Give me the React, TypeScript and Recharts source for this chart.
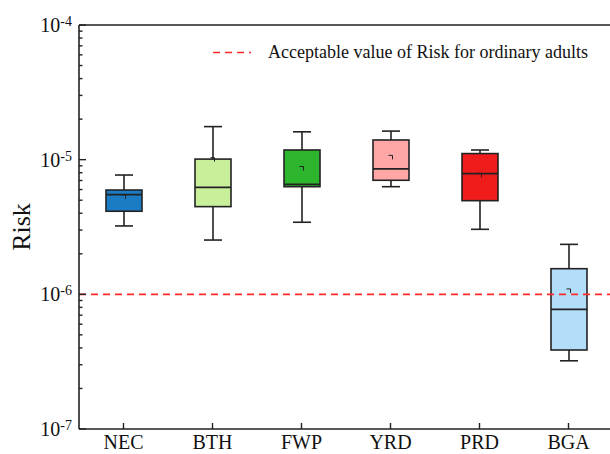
import React from 'react';
import { ComposedChart, Bar, Scatter, XAxis, YAxis, ReferenceLine } from 'recharts';

const categories = ['NEC', 'BTH', 'FWP', 'YRD', 'PRD', 'BGA'];
const whiskerLow = [3.22e-6, 2.53e-6, 3.43e-6, 6.3e-6, 3.04e-6, 3.21e-7];
const q1 = [4.14e-6, 4.48e-6, 6.3e-6, 7.03e-6, 4.96e-6, 3.86e-7];
const median = [5.5e-6, 6.23e-6, 6.55e-6, 8.53e-6, 7.87e-6, 7.74e-7];
const q3 = [5.95e-6, 1.01e-5, 1.18e-5, 1.4e-5, 1.11e-5, 1.55e-6];
const whiskerHigh = [7.69e-6, 1.76e-5, 1.61e-5, 1.63e-5, 1.18e-5, 2.35e-6];
const means = [5.3e-6, 1.0e-5, 8.6e-6, 1.04e-5, 7.65e-6, 1.06e-6];
const boxColors = ['#1b7cc4', '#c8f09a', '#2db52d', '#ffa6a6', '#f01c1c', '#b3defa'];

const acceptableRisk = 1e-6;
const legendLabel = 'Acceptable value of Risk for ordinary adults';
const yAxisLabel = 'Risk';
const yMajorTicks = [1e-7, 1e-6, 1e-5, 1e-4];
const yMajorExponents = ['-7', '-6', '-5', '-4'];
const yMinorMultipliers = [2, 3, 4, 5, 6, 7, 8, 9];
const yDecades = [1e-7, 1e-6, 1e-5];

const yMinorTicks: number[] = [];
yDecades.forEach((d) => yMinorMultipliers.forEach((m) => yMinorTicks.push(m * d)));
const yTicks = [...yMajorTicks, ...yMinorTicks].sort((a, b) => a - b);

const data = categories.map((name, i) => ({
  name,
  range: [whiskerLow[i], whiskerHigh[i]],
  q1: q1[i],
  median: median[i],
  q3: q3[i],
  mean: means[i],
  color: boxColors[i],
}));

const FONT = '"Liberation Serif", "Times New Roman", serif';
const INK = '#222';

const BoxShape = (props: any) => {
  const { x, y, width, height, payload } = props;
  if (!payload) return null;
  const [lo, hi] = payload.range;
  const top = Math.min(y, y + height);
  const bottom = Math.max(y, y + height);
  const L = Math.log10;
  const toPx = (v: number) => top + ((bottom - top) * (L(hi) - L(v))) / (L(hi) - L(lo));
  const cx = x + width / 2;
  const capW = 18;
  const yq1 = toPx(payload.q1);
  const yq3 = toPx(payload.q3);
  const ymed = toPx(payload.median);
  return (
    <g>
      <line x1={cx} x2={cx} y1={top} y2={yq3} stroke={INK} strokeWidth={1.6} />
      <line x1={cx} x2={cx} y1={yq1} y2={bottom} stroke={INK} strokeWidth={1.6} />
      <line x1={cx - capW / 2} x2={cx + capW / 2} y1={top} y2={top} stroke={INK} strokeWidth={1.6} />
      <line x1={cx - capW / 2} x2={cx + capW / 2} y1={bottom} y2={bottom} stroke={INK} strokeWidth={1.6} />
      <rect x={x} y={yq3} width={width} height={yq1 - yq3} fill={payload.color} stroke={INK} strokeWidth={1.6} />
      <line x1={x} x2={x + width} y1={ymed} y2={ymed} stroke={INK} strokeWidth={1.8} />
    </g>
  );
};

const MeanShape = (props: any) => {
  const { cx, cy } = props;
  if (cx == null || cy == null) return null;
  return <path d={`M${cx - 2},${cy - 2}H${cx + 2}V${cy + 2}`} fill="none" stroke={INK} strokeWidth={1} />;
};

const YTick = (props: any) => {
  const { x, y, payload } = props;
  const v = payload.value;
  const majorIdx = yMajorTicks.findIndex((m) => Math.abs(m - v) / m < 1e-6);
  const isMajor = majorIdx >= 0;
  const len = isMajor ? 7 : 3.5;
  return (
    <g>
      <path d={`M${x},${y}H${x + len}`} stroke={INK} strokeWidth={1.4} fill="none" />
      {isMajor && (
        <text x={x - 7} y={y + 7} textAnchor="end" fontFamily={FONT} fontSize={20} fill="#111" stroke="none">
          <tspan>10</tspan>
          <tspan dy={-6} fontSize={14}>{yMajorExponents[majorIdx]}</tspan>
        </text>
      )}
    </g>
  );
};

const XTick = (props: any) => {
  const { x, y, payload } = props;
  return (
    <text x={x} y={y + 6 + 20} textAnchor="middle" fontFamily={FONT} fontSize={20} fill="#111" stroke="none">
      {payload.value}
    </text>
  );
};

const YLabel = (props: any) => {
  const vb = props.viewBox || { x: 0, y: 25, width: 79, height: 404 };
  const cx = vb.x + 21;
  const cy = vb.y + vb.height / 2;
  return (
    <text
      x={cx}
      y={cy}
      transform={`rotate(-90 ${cx} ${cy})`}
      textAnchor="middle"
      dominantBaseline="central"
      fontFamily={FONT}
      fontSize={26}
      fill="#111"
    >
      {yAxisLabel}
    </text>
  );
};

export default function App() {
  return (
    <div style={{ position: 'absolute', left: 0, top: 0, width: 610, height: 454, overflow: 'hidden', background: '#fff' }}>
      <ComposedChart width={613} height={454} data={data} margin={{ top: 25, right: 0, bottom: 0, left: 0 }}>
        <XAxis
          dataKey="name"
          height={25}
          tickSize={-6}
          tickMargin={0}
          tickLine={{ stroke: INK, strokeWidth: 1.4 }}
          tick={<XTick />}
          axisLine={{ stroke: INK, strokeWidth: 1.6 }}
          interval={0}
        />
        <YAxis
          scale="log"
          domain={[1e-7, 1e-4]}
          allowDataOverflow
          ticks={yTicks}
          interval={0}
          width={79}
          tickSize={0}
          tickMargin={0}
          tickLine={false}
          tick={<YTick />}
          axisLine={{ stroke: INK, strokeWidth: 1.6 }}
          label={<YLabel />}
        />
        <ReferenceLine y={1e-4} stroke={INK} strokeWidth={1.6} />
        <Bar dataKey="range" barSize={36} shape={<BoxShape />} isAnimationActive={false} />
        <Scatter dataKey="mean" shape={<MeanShape />} isAnimationActive={false} />
        <ReferenceLine y={acceptableRisk} stroke="#ff2a2a" strokeWidth={1.6} strokeDasharray="7 5" />
      </ComposedChart>
      <svg width={610} height={454} style={{ position: 'absolute', left: 0, top: 0, pointerEvents: 'none' }}>
        <line x1={213} x2={251} y1={52.5} y2={52.5} stroke="#ff2a2a" strokeWidth={1.6} strokeDasharray="7 5" />
        <text x={268} y={57.5} fontFamily={FONT} fontSize={18} fill="#111">
          {legendLabel}
        </text>
      </svg>
    </div>
  );
}
